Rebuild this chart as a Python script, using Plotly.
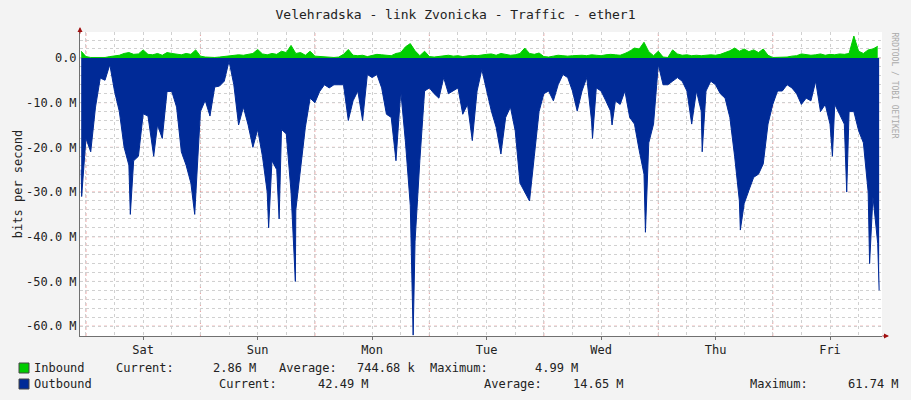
import plotly.graph_objects as go

# hourly samples, hours since Sat 00:00 (Mbit/s)
HOURS = list(range(-1, 167))
OUTBOUND = [
    -25,
    -18, -21, -11, -4.5, -5, -1.5, -7.5, -12, -20, -24, -23, -22, -12.5, -13, -20, -15, -18, -7.5, -7.5, -11, -21, -24, -28, -31,
    -12, -9.5, -13, -6.5, -6.3, -5.2, -0.7, -6, -15, -11, -15, -20, -16, -22, -30, -23, -25, -16, -17, -30, -34, -24, -15.5, -9,
    -10, -7.5, -6, -6.7, -6, -6, -6, -14, -9.6, -7.4, -14, -3.7, -4.4, -3.7, -6.7, -12.6, -13.3, -23, -7.4, -19, -33, -41, -23, -7.4,
    -6.7, -8, -9, -4.4, -8, -7.4, -6.7, -12.6, -10.4, -18.5, -7.4, -2.6, -7.4, -11.9, -15.5, -21.5, -13.3, -11, -16.3, -28, -30, -32, -22, -12,
    -8, -7.4, -9.6, -6, -3.7, -4.4, -7.4, -11.9, -7.4, -4.4, -14, -6.7, -7.4, -9.6, -11.9, -9.6, -10.4, -7.4, -13.3, -14.8, -20.7, -26, -19, -14.8,
    -1.5, -6, -6, -5.2, -4.4, -5.2, -7.4, -14.8, -7.4, -11.9, -7.4, -5.2, -6, -8, -9, -13.3, -22, -32, -32.6, -29.6, -26.7, -26, -23.7, -14.8,
    -10.4, -7.4, -7.4, -6, -6.7, -8, -10.4, -9, -9.6, -5.2, -12, -10.4, -14.8, -10.4, -12.6, -14.8, -12, -12, -16.3, -19, -30, -31, -41.5,
]
# short spikes between hourly samples
SPIKE_HOURS = [-0.9, 9.3, 14.2, 22.8, 38.3, 40.5, 43.9, 68.6, 106.2, 110.3, 117.3, 129.2, 137.2, 156.5, 159.5, 164.3, 166.3]
SPIKE_VALUES = [-31, -35, -22, -35, -38, -36, -50, -62, -18, -15, -39, -21, -38.5, -22, -30, -46, -52]

INBOUND = [
    1.5,
    0.3, 0.1, 0.1, 0.2, 0.1, 0.3, 0.5, 0.6, 1.0, 1.2, 0.8, 0.9, 1.8, 0.8, 0.7, 1.0, 0.6, 1.2, 1.0, 0.9, 0.7, 1.0, 0.8, 1.8,
    0.4, 0.2, 0.1, 0.1, 0.2, 0.3, 0.4, 0.5, 0.7, 0.6, 0.8, 1.0, 1.9, 0.9, 0.7, 1.0, 0.8, 1.5, 1.2, 2.8, 1.0, 1.2, 0.6, 1.5,
    0.4, 0.3, 0.2, 0.1, 0.1, 0.2, 0.8, 1.9, 0.6, 0.5, 0.6, 0.3, 0.6, 0.8, 0.7, 0.6, 0.5, 1.0, 1.2, 2.5, 3.2, 1.6, 0.5, 1.5,
    0.3, 0.2, 0.3, 0.5, 0.6, 0.4, 0.5, 0.3, 0.4, 0.6, 0.5, 0.7, 0.8, 0.9, 0.6, 1.0, 0.8, 0.6, 0.7, 1.0, 2.2, 1.0, 0.8, 1.1,
    0.3, 0.2, 0.4, 0.6, 0.5, 0.4, 0.5, 0.6, 0.6, 0.5, 0.7, 0.6, 0.5, 0.7, 0.8, 0.7, 0.6, 1.0, 1.5, 2.2, 2.0, 3.5, 1.4, 0.5,
    1.5, 0.2, 0.1, 1.8, 0.9, 0.6, 0.7, 0.5, 0.6, 0.5, 0.6, 0.7, 0.6, 0.8, 1.2, 1.6, 2.2, 1.5, 2.0, 1.4, 1.8, 1.2, 2.0, 0.6,
    0.1, 0.1, 0.1, 0.2, 0.4, 0.5, 0.9, 0.8, 0.6, 0.7, 0.9, 0.6, 0.8, 0.7, 0.9, 0.8, 1.0, 4.9, 1.5, 1.0, 1.8, 2.0, 2.6,
]
DAYS = ["Sat", "Sun", "Mon", "Tue", "Wed", "Thu", "Fri"]
Y_TICKS = [0, -10, -20, -30, -40, -50, -60]
Y_LABELS = ["0.0", "-10.0 M", "-20.0 M", "-30.0 M", "-40.0 M", "-50.0 M", "-60.0 M"]

out = sorted(zip(HOURS + SPIKE_HOURS, OUTBOUND + SPIKE_VALUES))
MONO = "DejaVu Sans Mono"
L, R, T, B = 80, 882, 32, 336


def px(x):
    return (x - L) / (R - L)


def py(y):
    return (B - y) / (B - T)


fig = go.Figure()
fig.add_trace(go.Scatter(x=HOURS, y=INBOUND, fill="tozeroy", mode="lines",
                         line=dict(color="#00CC00", width=1), fillcolor="#00CC00"))
fig.add_trace(go.Scatter(x=[p[0] for p in out], y=[p[1] for p in out], fill="tozeroy",
                         mode="lines", line=dict(color="#002A97", width=1), fillcolor="#002A97"))

# red dotted midnight / 10M lines
for d in range(8):
    fig.add_vline(x=d * 24, line=dict(color="rgba(230,120,120,0.7)", width=1, dash="dot"), layer="below")
for v in Y_TICKS:
    fig.add_hline(y=v, line=dict(color="rgba(230,120,120,0.7)", width=1, dash="dot"), layer="below")

fig.update_xaxes(range=[-1.25, 166.9], tickvals=[12 + 24 * i for i in range(7)], ticktext=DAYS,
                 showgrid=False, zeroline=False, showline=True, linecolor="#707070",
                 ticks="outside", ticklen=3, tickcolor="#707070", automargin=False,
                 minor=dict(dtick=6, tick0=0, showgrid=True, gridcolor="#d0d0d0", griddash="dot"),
                 tickfont=dict(family=MONO, size=12, color="#222"))
fig.update_yaxes(range=[-62.2, 5.8], tickvals=Y_TICKS, ticktext=Y_LABELS, showgrid=False,
                 zeroline=False, showline=True, linecolor="#707070", automargin=False,
                 minor=dict(dtick=2, tick0=0, showgrid=True, gridcolor="#d0d0d0", griddash="dot"),
                 tickfont=dict(family=MONO, size=12, color="#222"),
                 title=dict(text="bits per second", font=dict(family=MONO, size=12, color="#222"), standoff=0))

legend = [
    (34, 368, "Inbound"), (116, 368, "Current:"), (213, 368, "2.86 M"), (279, 368, "Average:"),
    (357, 368, "744.68 k"), (430, 368, "Maximum:"), (535, 368, "4.99 M"),
    (34, 384, "Outbound"), (219, 384, "Current:"), (318, 384, "42.49 M"),
    (484, 384, "Average:"), (573, 384, "14.65 M"), (750, 384, "Maximum:"), (848, 384, "61.74 M"),
]
for x, y, t in legend:
    fig.add_annotation(x=px(x), y=py(y), xref="paper", yref="paper", text=t,
                       showarrow=False, xanchor="left", yanchor="middle", xshift=-2,
                       font=dict(family=MONO, size=12, color="#222"))
for y, c in [(368, "#00CC00"), (384, "#002A97")]:
    fig.add_shape(type="rect", xref="paper", yref="paper", x0=px(19), x1=px(29),
                  y0=py(y + 5), y1=py(y - 5), fillcolor=c, line=dict(color="#444", width=1))

fig.add_annotation(x=px(901), y=py(30), xref="paper", yref="paper", text="RRDTOOL / TOBI OETIKER",
                   textangle=90, showarrow=False, yanchor="top",
                   font=dict(family=MONO, size=8, color="#aaa"))
fig.add_annotation(x=px(889), y=0, xref="paper", yref="paper", text="", showarrow=True,
                   ax=-8, ay=0, arrowhead=2, arrowsize=1, arrowcolor="#a01010")
fig.add_annotation(x=0, y=py(27), xref="paper", yref="paper", text="", showarrow=True,
                   ax=0, ay=8, arrowhead=2, arrowsize=1, arrowcolor="#a01010")

fig.update_layout(
    width=911, height=400, showlegend=False,
    title=dict(text="Velehradska - link Zvonicka - Traffic - ether1", x=0.5, xanchor="center",
               y=1 - 14 / 400, yanchor="middle",
               font=dict(family=MONO, size=13, color="#222")),
    paper_bgcolor="#F3F3F3", plot_bgcolor="white",
    margin=dict(l=L, r=911 - R, t=T, b=400 - B),
)
fig.write_html("out.html", config={"displayModeBar": False},
               post_script="document.body.style.margin='0';")
